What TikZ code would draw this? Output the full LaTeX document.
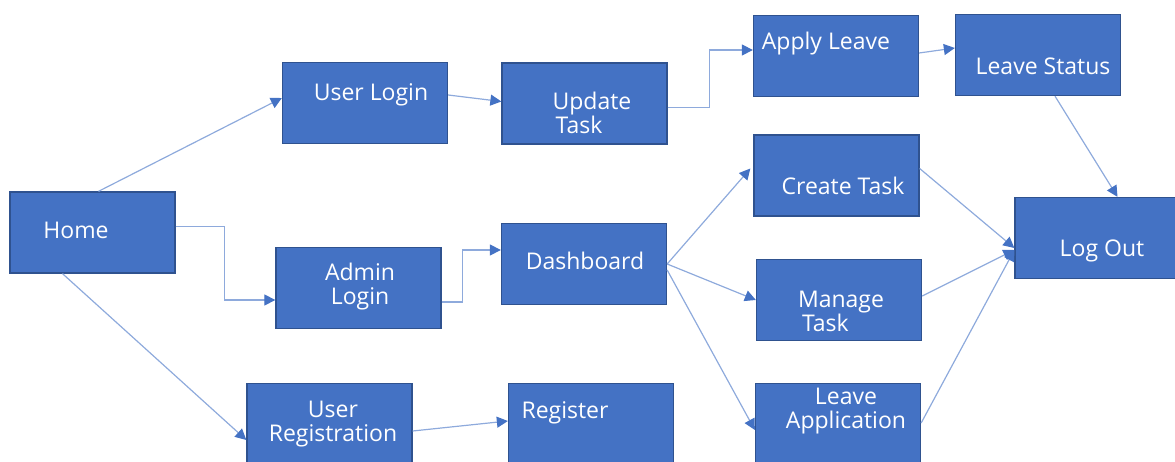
\documentclass[tikz,border=0pt]{standalone}
\usepackage{fontspec}
\setmainfont{Open Sans}
\usetikzlibrary{arrows.meta}

\definecolor{boxfill}{HTML}{4472C4}
\definecolor{boxline}{HTML}{2F528F}
\definecolor{linkline}{HTML}{8EAADC}

\tikzset{
  page/.style={x=1pt,y=-1pt},
  box/.style={draw=boxline,fill=boxfill,line width=1.3pt,minimum width=165pt,minimum height=81pt,inner sep=0pt},
  lbl/.style={text=white,inner sep=0pt,align=center,font=\fontsize{23}{24}\selectfont},
  link/.style={draw=linkline,line width=1.2pt,-{Triangle[length=11pt,width=11pt,color=boxfill]}}
}

\begin{document}
\begin{tikzpicture}[page]
			%%%%% START %%%%%
			\useasboundingbox (0,0) rectangle (1175,462);
			
			\node[box] (home) at (92.5, 232.5) {};
			\node[box] (ulogin) at (365, 103) {};
			\node[box] (update) at (584.5, 103.5) {};
			\node[box] (apply) at (836, 56) {};
			\node[box] (status) at (1038, 55) {};
			
			\node[box] (admin) at (358.5, 288) {};
			\node[box] (dash) at (584, 264) {};
			\node[box] (create) at (836.5, 175.5) {};
			\node[box] (manage) at (839, 300) {};
			\node[box] (logout) at (1097.5, 238) {};
			
			\node[box] (ureg) at (329.5, 424) {};
			\node[box] (register) at (591, 424) {};
			\node[box] (leaveapp) at (838, 424) {};
			
			\node[lbl] (home-t) at (76, 230) {Home};
			\node[lbl] (ulogin-t) at (371, 95) {User Login};
			\node[lbl,align=left] (update-t) at (592, 113) {Update\\\hspace*{3pt}Task};
			\node[lbl] (apply-t) at (826, 44) {Apply Leave};
			\node[lbl] (status-t) at (1043, 66) {Leave Status};
			
			\node[lbl] (admin-t) at (360, 287) {Admin\\Login};
			\node[lbl] (dash-t) at (585, 261) {Dashboard};
			\node[lbl] (create-t) at (843, 186) {Create Task};
			\node[lbl,align=left] (manage-t) at (841, 311) {Manage\\\hspace*{4pt}Task};
			\node[lbl] (logout-t) at (1102, 251) {Log Out};
			
			\node[lbl] (ureg-t) at (333, 424) {User\\Registration};
			\node[lbl] (register-t) at (565, 413) {Register};
			\node[lbl] (leaveapp-t) at (846, 411) {Leave\\Application};
			
			\draw[link] ([xshift=6pt]home.north) -- ([yshift=5pt]ulogin.west);
			\draw[link] ([yshift=6pt]home.east) -- ++(49,0) |- ([yshift=-12pt]admin.west);
			\draw[link] ([xshift=-30pt]home.south) -- ([yshift=-16pt]ureg.west);
			
			\draw[link] ([yshift=8pt]ulogin.east) -- ([yshift=2pt]update.west);
			\draw[link] ([yshift=-4pt]update.east) -- ++(42,0) |- ([yshift=6pt]apply.west);
			\draw[link] ([yshift=3pt]apply.east) -- ([yshift=7pt]status.west);
			\draw[link] ([xshift=17pt]status.south) -- ([xshift=20pt]logout.north);
			
			\draw[link] ([yshift=-14pt]admin.east) -- ++(21,0) |- ([yshift=14pt]dash.west);
			\draw[link] (dash.east) -- ([xshift=-3pt,yshift=7pt]create.west);
			\draw[link] (dash.east) -- (manage.west);
			\draw[link] ([yshift=-6pt]dash.east) -- ([yshift=-6pt]leaveapp.west);
			
			\draw[link] ([yshift=7pt]create.east) -- ([yshift=-10pt]logout.west);
			\draw[link] ([yshift=4pt]manage.east) -- ([yshift=-12pt]logout.west);
			\draw[link] ([yshift=1pt]leaveapp.east) -- ([yshift=-12pt]logout.west);
			
			\draw[link] ([yshift=-7pt]ureg.east) -- ([yshift=3pt]register.west);
			%%%%% END %%%%%
\end{tikzpicture}
\end{document}
